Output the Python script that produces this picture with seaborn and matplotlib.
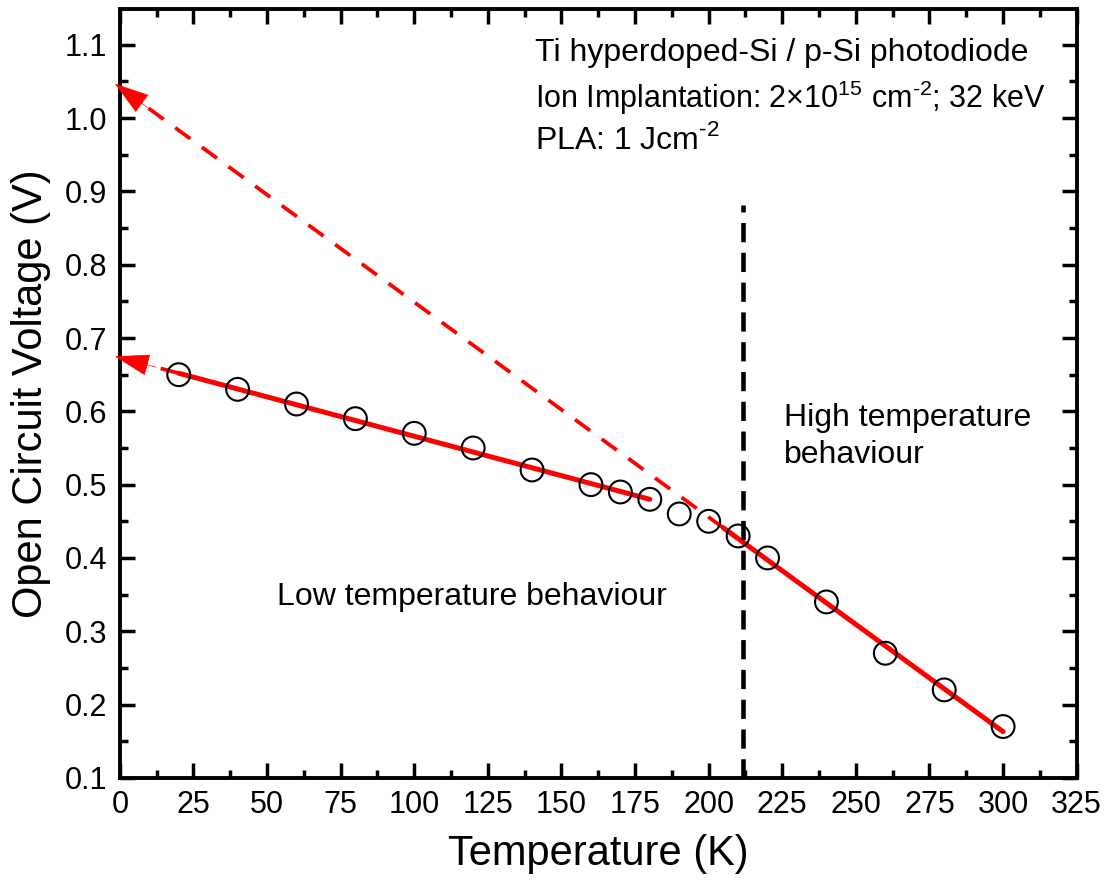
import numpy as np
import pandas as pd
import seaborn as sns
import matplotlib.pyplot as plt
from matplotlib.ticker import MultipleLocator

# measured open circuit voltage vs temperature
temperature = [20, 40, 60, 80, 100, 120, 140, 160, 170, 180,
               190, 200, 210, 220, 240, 260, 280, 300]
voc = [0.65, 0.63, 0.61, 0.59, 0.57, 0.55, 0.52, 0.50, 0.49, 0.48,
       0.46, 0.45, 0.43, 0.40, 0.34, 0.27, 0.22, 0.17]

# linear fits (solid part over the fitted range, dashed extrapolation to T = 0)
low_fit_x = [20, 180]
low_fit_y = [0.652, 0.480]
low_extrap_x = [20, -1.7]
low_extrap_y = [0.652, 0.675]

high_fit_x = [205, 300]
high_fit_y = [0.441, 0.163]
high_extrap_x = [205, -1.7]
high_extrap_y = [0.441, 1.047]

# boundary between the two regimes
t_boundary = 211.5
boundary_y = [0.1, 0.882]

df = pd.DataFrame({"T": temperature, "Voc": voc})

sns.set_style("ticks")
plt.rcParams["font.family"] = ["Liberation Sans", "DejaVu Sans"]
plt.rcParams["mathtext.fontset"] = "custom"
plt.rcParams["mathtext.rm"] = "Liberation Sans"

fig = plt.figure(figsize=(11.1, 8.9), dpi=100)
ax = fig.add_axes([0.108, 0.126, 0.862, 0.864])

red = "#ff0000"

# extrapolations with arrow heads
for xs, ys in [(low_extrap_x, low_extrap_y), (high_extrap_x, high_extrap_y)]:
    slope = (ys[1] - ys[0]) / (xs[1] - xs[0])
    # stop the dashes where the head starts
    x_stop = xs[1] + 8
    ax.plot([xs[0], x_stop], [ys[0], ys[0] + slope * (x_stop - xs[0])],
            color=red, lw=2.7, ls=(0, (5, 3.8)))
    x_back = xs[1] + 14
    ax.annotate("", xy=(xs[1], ys[1]),
                xytext=(x_back, ys[0] + slope * (x_back - xs[0])),
                annotation_clip=False,
                arrowprops=dict(arrowstyle="-|>,head_length=0.7,head_width=0.22",
                                color=red, lw=0.5, mutation_scale=33,
                                shrinkA=0, shrinkB=0))

sns.lineplot(x=low_fit_x, y=low_fit_y, color=red, lw=3.6, ax=ax)
sns.lineplot(x=high_fit_x, y=high_fit_y, color=red, lw=3.6, ax=ax)

ax.plot([t_boundary, t_boundary], boundary_y, color="black", lw=3.3,
        ls=(0, (4.2, 2.3)))

sns.scatterplot(data=df, x="T", y="Voc", marker="o", s=270,
                facecolor="none", edgecolor="black", linewidth=1.5,
                ax=ax, zorder=5)

ax.set_xlim(0, 325)
ax.set_ylim(0.1, 1.149)
ax.xaxis.set_major_locator(MultipleLocator(25))
ax.xaxis.set_minor_locator(MultipleLocator(12.5))
ax.yaxis.set_minor_locator(MultipleLocator(0.05))
yt = np.round(np.arange(0.1, 1.15, 0.1), 1)
ax.set_yticks(yt)
ax.set_yticklabels([f"{v:.1f}" for v in yt])

ax.tick_params(which="both", direction="in", top=True, right=True,
               width=2.5, color="black", labelcolor="black",
               labelsize=22, pad=9)
ax.tick_params(which="major", length=11)
ax.tick_params(which="minor", length=5.5)
for s in ax.spines.values():
    s.set_linewidth(2.8)
    s.set_color("black")

ax.set_xlabel("Temperature (K)", fontsize=30, labelpad=10, color="black")
ax.set_ylabel("Open Circuit Voltage (V)", fontsize=30, labelpad=10,
              color="black")

txt = dict(fontsize=23, color="black", va="center", ha="left")
ax.text(141, 1.089, "Ti hyperdoped-Si / p-Si photodiode", **txt)
ax.text(141, 1.028,
        r"Ion Implantation: 2×10$^{\text{15}}$ cm$^{\text{-2}}$; 32 keV",
        **{**txt, "fontsize": 22})
ax.text(141, 0.970, r"PLA: 1 Jcm$^{\text{-2}}$", **txt)
ax.text(225.5, 0.566, "High temperature\nbehaviour", linespacing=1.3, **txt)
ax.text(53.5, 0.347, "Low temperature behaviour", **txt)

fig.savefig("out.png", dpi=100)
